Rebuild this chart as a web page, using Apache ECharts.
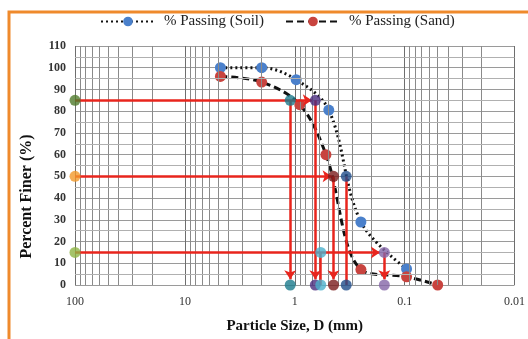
<!DOCTYPE html>
<html>
<head>
<meta charset="utf-8">
<script src="https://cdn.jsdelivr.net/npm/echarts@6/dist/echarts.min.js"></script>
<style>html,body{margin:0;padding:0;background:#fff;}#c{width:528px;height:339px;}</style>
</head>
<body>
<div id="c"></div>
<script>
// ---- data ----
const xTickLabels = ['100', '10', '1', '0.1', '0.01'];
const xTickValues = [100, 10, 1, 0.1, 0.01];
const xMinorGrid = [90, 80, 70, 60, 50, 40, 30, 20,
                    9, 8, 7, 6, 5, 4, 3, 2,
                    0.9, 0.8, 0.7, 0.6, 0.5, 0.4, 0.3, 0.2,
                    0.09, 0.08, 0.07, 0.06, 0.05, 0.04, 0.03, 0.02];
const yMinorGrid = [5, 15, 25, 35, 45, 55, 65, 75, 85, 95, 105];

const soilSize    = [4.75, 2.0, 0.97, 0.49, 0.25, 0.096];
const soilPassing = [100, 100, 94.5, 80.5, 29, 7.4];

const sandSize    = [4.75, 2.0, 0.9, 0.52, 0.25, 0.096, 0.05];
const sandPassing = [96, 93.4, 83, 60, 7.1, 3.8, 0];

// reference levels (D85, D50, D15) marked at D = 100
const refLevels   = [85, 50, 15];
const refStart    = 100;
// horizontal arrow ends (particle size where each arrow tip lies)
const refArrowEnd = [0.70, 0.462, 0.168];

const charSize    = [1.10, 0.65, 0.58, 0.444, 0.34, 0.153];
const charPassing = [85, 85, 15, 50, 50, 15];
const charArrow   = [true, true, false, true, false, true];

// ---- styles ----
const refColors  = ['#4f7b2c', '#f39a2a', '#8db443'];
const charColors = ['#1b7a8c', '#4a2d7e', '#4bb0cc', '#7a1c1c', '#1f4c8a', '#8465a8'];
const red = '#e8251d';
const serif = '"Liberation Serif", "DejaVu Serif", serif';

const chart = echarts.init(document.getElementById('c'));

const arrowLines = [];
refLevels.forEach((lv, i) => {
  arrowLines.push([{ coord: [refStart, lv], symbol: 'none' }, { coord: [refArrowEnd[i], lv], symbol: 'arrow' }]);
});
charSize.forEach((d, i) => {
  arrowLines.push([{ coord: [d, charPassing[i]], symbol: 'none' },
                   { coord: [d, charArrow[i] ? 2.6 : 0], symbol: charArrow[i] ? 'arrow' : 'none' }]);
});

const refPoints = refLevels.map((lv, i) => ({ value: [refStart, lv], itemStyle: { color: refColors[i] } }));
const charPoints = [];
charSize.forEach((d, i) => {
  charPoints.push({ value: [d, charPassing[i]], itemStyle: { color: charColors[i] } });
  charPoints.push({ value: [d, 0], itemStyle: { color: charColors[i] } });
});

chart.setOption({
  animation: false,
  backgroundColor: '#fff',
  graphic: [{
    type: 'rect', shape: { x: 9, y: 12, width: 700, height: 500 },
    style: { fill: 'none', stroke: '#ef8a2c', lineWidth: 3 }, z: 100, silent: true
  }],
  legend: {
    top: 9, left: 95,
    itemWidth: 54, itemHeight: 12, itemGap: 21,
    textStyle: { fontFamily: serif, fontSize: 15, color: '#222', padding: [0, 0, 0, 4] },
    data: ['% Passing (Soil)', '% Passing (Sand)']
  },
  grid: { left: 75, right: 11, top: 46, bottom: 50 },
  xAxis: {
    type: 'log', logBase: 10, min: 0.01, max: 100, inverse: true,
    name: 'Particle Size, D (mm)', nameLocation: 'middle', nameGap: 34,
    nameTextStyle: { fontFamily: serif, fontSize: 15, fontWeight: 'bold', color: '#111' },
    axisLine: { show: false }, axisTick: { show: false },
    axisLabel: {
      fontFamily: serif, fontSize: 12, color: '#333', margin: 11,
      formatter: v => { const k = xTickValues.findIndex(t => Math.abs(Math.log10(t) - Math.log10(v)) < 1e-6); return k >= 0 ? xTickLabels[k] : ''; }
    },
    splitLine: { show: true, lineStyle: { color: '#6e6e6e', width: 1 } }
  },
  yAxis: {
    type: 'value', min: 0, max: 110, interval: 10,
    name: 'Percent Finer (%)', nameLocation: 'middle', nameGap: 40,
    nameTextStyle: { fontFamily: serif, fontSize: 16, fontWeight: 'bold', color: '#111', padding: [0, 62, 0, 0] },
    axisLine: { show: false }, axisTick: { show: false },
    axisLabel: { fontFamily: serif, fontSize: 12, fontWeight: 'bold', color: '#333', margin: 9 },
    splitLine: { show: true, lineStyle: { color: '#9a9a9a', width: 1 } }
  },
  series: [
    {
      name: 'grid-minor', type: 'line', data: [], z: 1, silent: true,
      markLine: {
        silent: true, symbol: 'none', animation: false,
        label: { show: false },
        lineStyle: { color: '#8a8a8a', width: 1, type: 'solid' },
        data: xMinorGrid.map(v => ({ xAxis: v })).concat(
              yMinorGrid.map(v => ({ yAxis: v, lineStyle: { color: '#b0b0b0', width: 1, type: 'solid' } })))
      }
    },
    {
      name: 'arrows', type: 'line', data: [], z: 3, silent: true,
      markLine: {
        silent: true, animation: false, symbolSize: [9, 9],
        label: { show: false },
        lineStyle: { color: red, width: 2.5, type: 'solid' },
        itemStyle: { color: red },
        data: arrowLines
      }
    },
    {
      name: '% Passing (Soil)', type: 'line', smooth: 0.35, z: 4,
      data: soilSize.map((d, i) => [d, soilPassing[i]]),
      symbol: 'circle', symbolSize: 11,
      itemStyle: { color: '#4a80cb' },
      lineStyle: { color: '#111', width: 3, type: [2, 3] }
    },
    {
      name: '% Passing (Sand)', type: 'line', smooth: 0.35, z: 4,
      data: sandSize.map((d, i) => [d, sandPassing[i]]),
      symbol: 'circle', symbolSize: 11,
      itemStyle: { color: '#c8443f' },
      lineStyle: { color: '#111', width: 3, type: [7, 4] }
    },
    {
      name: 'ref', type: 'scatter', z: 6, symbolSize: 11, data: refPoints
    },
    {
      name: 'char', type: 'scatter', z: 6, symbolSize: 11, data: charPoints
    }
  ]
});
</script>
</body>
</html>
